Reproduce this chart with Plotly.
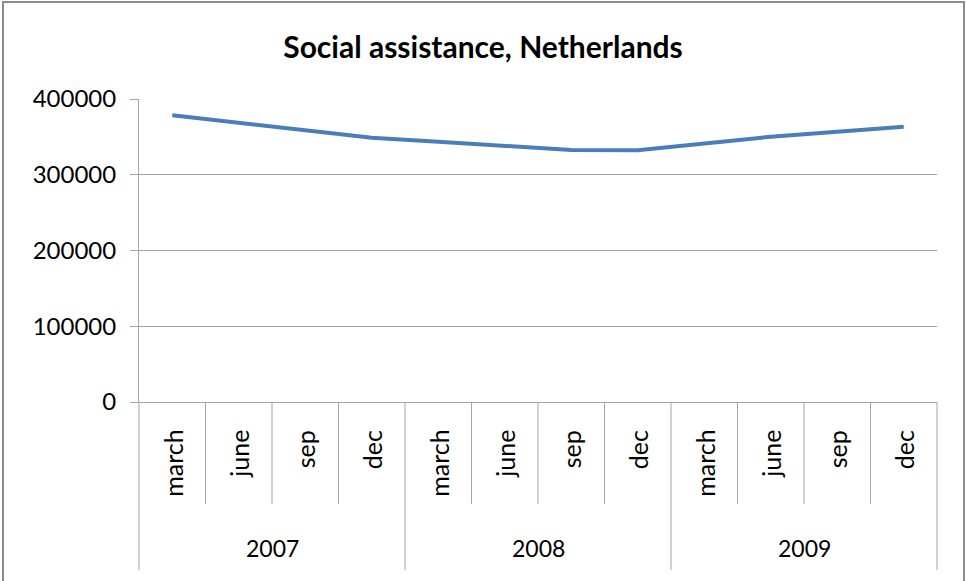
import plotly.graph_objects as go

# Social assistance recipients, quarterly, Netherlands 2007-2009
years = ["2007", "2008", "2009"]
months = ["march", "june", "sep", "dec"]
recipients = [378500, 368300, 358700, 348900,
              343600, 338300, 332700, 332500,
              341500, 350200, 356800, 363400]
y_ticks = [0, 100000, 200000, 300000, 400000]

W, H = 966, 581
L, R, T, B = 139, 29, 99, 179
plot_h = H - T - B

FONT = "Lato"
GRID = "#a5a5a5"
LINE = "#4a7ebb"
BORDER = "#8c8c8c"


def py(px):
    """Pixel row -> paper y coordinate."""
    return (H - B - px) / plot_h


def pxx(px):
    """Pixel column -> paper x coordinate."""
    return (px - L) / (W - L - R)


n = len(years) * len(months)
xs = list(range(n))

fig = go.Figure()
fig.add_trace(go.Scatter(
    x=xs, y=recipients, mode="lines",
    line=dict(color=LINE, width=4),
    hoverinfo="skip", showlegend=False,
))

shapes = []
# category dividers under the axis
for k in range(n + 1):
    is_year = k % len(months) == 0
    shapes.append(dict(
        type="line", xref="paper", yref="paper",
        x0=k / n, x1=k / n, y0=0, y1=py(570 if is_year else 504),
        line=dict(color=GRID, width=1),
    ))
# outer frame
shapes.append(dict(
    type="rect", xref="paper", yref="paper",
    x0=pxx(3), x1=pxx(964), y0=py(590), y1=py(2),
    line=dict(color=BORDER, width=2), fillcolor="rgba(0,0,0,0)",
))

annotations = []
for yi, yr in enumerate(years):
    for mi, m in enumerate(months):
        annotations.append(dict(
            x=yi * len(months) + mi, xref="x", y=py(428), yref="paper",
            text=m, textangle=-90, showarrow=False,
            xanchor="center", yanchor="top",
            font=dict(family=FONT, size=25, color="#000"),
        ))
    annotations.append(dict(
        x=yi * len(months) + (len(months) - 1) / 2, xref="x",
        y=py(548), yref="paper", text=yr, showarrow=False,
        xanchor="center", yanchor="middle",
        font=dict(family=FONT, size=23, color="#000"),
    ))

fig.update_layout(
    width=W, height=H, autosize=False,
    margin=dict(l=L, r=R, t=T, b=B, pad=0),
    paper_bgcolor="white", plot_bgcolor="white",
    title=dict(
        text="<b>Social assistance, Netherlands</b>",
        x=0.5, xref="container", xanchor="center",
        y=1 - 47 / H, yanchor="middle",
        font=dict(family=FONT, size=30, color="#000"),
    ),
    xaxis=dict(
        range=[-0.5, n - 0.5], showticklabels=False, ticks="",
        showgrid=False, zeroline=False,
        showline=True, linecolor=GRID, linewidth=1,
    ),
    yaxis=dict(
        range=[0, 400000], tickvals=y_ticks,
        ticktext=[str(v) for v in y_ticks],
        showgrid=True, gridcolor=GRID, gridwidth=1,
        zeroline=False, showline=True, linecolor=GRID, linewidth=1,
        ticks="outside", ticklen=8, tickcolor=GRID,
        ticklabelstandoff=9,
        tickfont=dict(family=FONT, size=24, color="#000"),
    ),
    shapes=shapes, annotations=annotations,
)

fig.write_html("out.html")
